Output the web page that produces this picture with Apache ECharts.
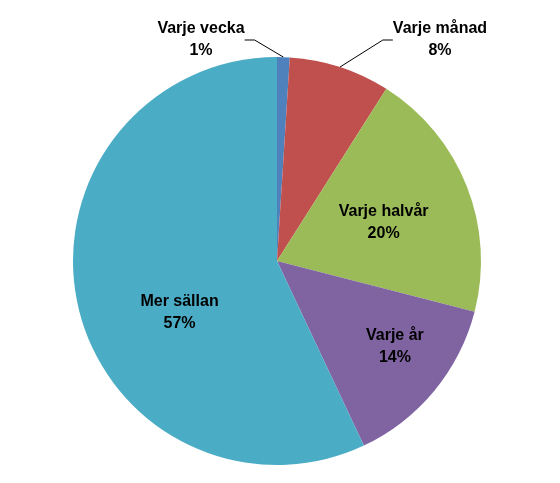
<!DOCTYPE html>
<html>
<head>
<meta charset="utf-8">
<script src="https://cdn.jsdelivr.net/npm/echarts@6/dist/echarts.min.js"></script>
<style>
html,body{margin:0;padding:0;background:#fff;}
#chart{width:560px;height:483px;}
</style>
</head>
<body>
<div id="chart"></div>
<script>
const categories = ['Varje vecka', 'Varje månad', 'Varje halvår', 'Varje år', 'Mer sällan'];
const values = [1, 8, 20, 14, 57];
const colors = ['#4F81BD', '#C0504D', '#9BBB59', '#8064A2', '#4BACC6'];

const chart = echarts.init(document.getElementById('chart'));
const labelFont = {
  color: '#000',
  fontFamily: 'Liberation Sans, Arial, sans-serif',
  fontWeight: 'bold',
  fontSize: 16,
  lineHeight: 22,
  align: 'center'
};
const outsideIdx = [0, 1];
const outsidePos = {0: [201, 40], 1: [440, 40]};
const insideShift = {2: [9, 0], 3: [37, 19], 4: [5, 29]};

const data = categories.map((name, i) => {
  const outside = outsideIdx.includes(i);
  return {
    name: name,
    value: values[i],
    itemStyle: {color: colors[i]},
    label: Object.assign({
      show: true,
      position: outside ? 'outside' : 'inside',
      formatter: '{b}\n{d}%'
    }, labelFont),
    labelLine: {show: outside, length: 15, length2: 10, lineStyle: {color: '#000', width: 1}}
  };
});

chart.setOption({
  animation: false,
  series: [{
    type: 'pie',
    center: [277, 261],
    radius: [0, 204],
    startAngle: 90,
    clockwise: true,
    avoidLabelOverlap: false,
    itemStyle: {borderColor: '#fff', borderWidth: 0},
    data: data,
    labelLayout: function (params) {
      const i = params.dataIndex;
      if (outsidePos[i]) {
        return {x: outsidePos[i][0], y: outsidePos[i][1], align: 'center', verticalAlign: 'middle'};
      }
      if (insideShift[i]) {
        return {dx: insideShift[i][0], dy: insideShift[i][1]};
      }
      return {};
    }
  }]
});
</script>
</body>
</html>
